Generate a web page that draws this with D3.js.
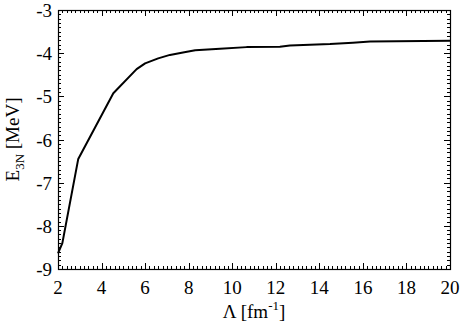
<!DOCTYPE html>
<html>
<head>
<meta charset="utf-8">
<script src="https://cdn.jsdelivr.net/npm/d3@7"></script>
<style>
  body { margin: 0; background: #fff; }
  svg { display: block; }
</style>
</head>
<body>
<div id="chart"></div>
<script>
// cutoff values (fm^-1) and 3N binding energies (MeV)
var lambda = [2.0, 2.2, 2.93, 4.54, 5.61, 6.0, 6.6, 7.14, 7.8, 8.3, 9.44, 10.66, 12.19, 12.65, 14.49, 15.54, 16.33, 20.0];
var energy = [-8.64, -8.40, -6.45, -4.93, -4.37, -4.235, -4.12, -4.04, -3.98, -3.93, -3.90, -3.86, -3.85, -3.82, -3.79, -3.76, -3.73, -3.71];
var xTicks = [2, 4, 6, 8, 10, 12, 14, 16, 18, 20];
var yTicks = [-9, -8, -7, -6, -5, -4, -3];

var FONT = '"Liberation Serif", Tinos, "Nimbus Roman", "Nimbus Roman No9 L", FreeSerif, "Times New Roman", Times, "DejaVu Serif", serif';
var width = 463, height = 330;
var margin = {top: 10, right: 13, bottom: 61, left: 58};

var svg = d3.select('#chart').append('svg')
    .attr('width', width).attr('height', height)
    .style('font-family', FONT);

var x = d3.scaleLinear().domain([2, 20]).range([margin.left, width - margin.right]);
var y = d3.scaleLinear().domain([-9, -3]).range([height - margin.bottom, margin.top]);

var x0 = x.range()[0], x1 = x.range()[1];
var y0 = y.range()[0], y1 = y.range()[1];

// minor ticks
var xMinor = d3.range(2, 20.001, 0.2);
var yMinor = d3.range(-9, -2.999, 0.1);
var ticks = svg.append('g').attr('stroke', '#000').attr('stroke-width', 1);

xMinor.forEach(function(v) {
    var major = Math.abs(v - Math.round(v / 2) * 2) < 1e-6;
    var len = major ? 6 : 3;
    var px = Math.round(x(v)) + 0.5;
    ticks.append('line').attr('x1', px).attr('x2', px).attr('y1', y0).attr('y2', y0 - len);
    ticks.append('line').attr('x1', px).attr('x2', px).attr('y1', y1).attr('y2', y1 + len);
});
yMinor.forEach(function(v) {
    var major = Math.abs(v - Math.round(v)) < 1e-6;
    var len = major ? 6 : 3;
    var py = Math.round(y(v)) + 0.5;
    ticks.append('line').attr('y1', py).attr('y2', py).attr('x1', x0).attr('x2', x0 + len);
    ticks.append('line').attr('y1', py).attr('y2', py).attr('x1', x1).attr('x2', x1 - len);
});

// frame
svg.append('rect')
    .attr('x', x0 + 0.5).attr('y', y1 + 0.5)
    .attr('width', x1 - x0).attr('height', y0 - y1)
    .attr('fill', 'none').attr('stroke', '#000').attr('stroke-width', 1.2);

// tick labels
svg.append('g').selectAll('text').data(xTicks).enter().append('text')
    .attr('x', function(d) { return x(d); })
    .attr('y', y0 + 25)
    .attr('text-anchor', 'middle')
    .attr('font-family', FONT)
    .attr('font-size', '19px')
    .text(function(d) { return d; });

svg.append('g').selectAll('text').data(yTicks).enter().append('text')
    .attr('x', x0 - 6)
    .attr('y', function(d) { return y(d) + 7; })
    .attr('text-anchor', 'end')
    .attr('font-family', FONT)
    .attr('font-size', '19px')
    .text(function(d) { return d; });

// data line
var line = d3.line()
    .x(function(d, i) { return x(lambda[i]); })
    .y(function(d, i) { return y(energy[i]); });

svg.append('path')
    .datum(energy)
    .attr('d', line)
    .attr('fill', 'none')
    .attr('stroke', '#000')
    .attr('stroke-width', 2)
    .attr('stroke-linejoin', 'round');

// axis titles
var xt = svg.append('text')
    .attr('x', (x0 + x1) / 2)
    .attr('y', 318)
    .attr('text-anchor', 'middle')
    .attr('font-family', FONT)
    .attr('font-size', '19px');
xt.append('tspan').text('\u039B [fm');
xt.append('tspan').attr('dy', -8).attr('font-size', '13px').text('-1');
xt.append('tspan').attr('dy', 8).text(']');

var yt = svg.append('text')
    .attr('transform', 'translate(19,' + ((y0 + y1) / 2) + ') rotate(-90)')
    .attr('text-anchor', 'middle')
    .attr('font-family', FONT)
    .attr('font-size', '19px');
yt.append('tspan').text('E');
yt.append('tspan').attr('dy', 5).attr('font-size', '13px').text('3N');
yt.append('tspan').attr('dy', -5).text(' [MeV]');
</script>
</body>
</html>
